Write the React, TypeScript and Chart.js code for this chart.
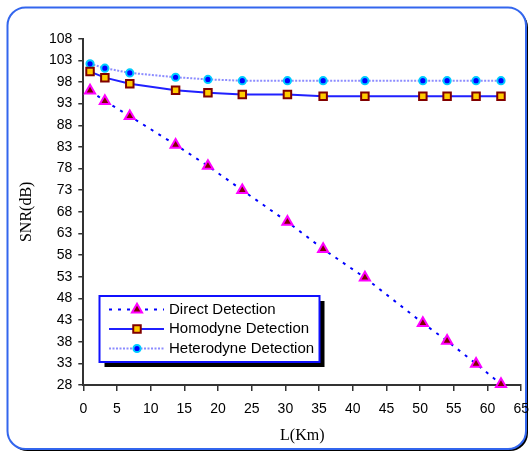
import React, { useEffect, useRef } from 'react';
import { Chart, registerables } from 'chart.js';

Chart.register(...registerables);

// ---- data ----
const distanceKm = [1, 3.2, 6.9, 13.7, 18.5, 23.6, 30.3, 35.6, 41.8, 50.4, 54, 58.3, 62];
const directSNR = [96.0, 93.6, 90.1, 83.5, 78.6, 73.0, 65.7, 59.4, 52.8, 42.3, 38.2, 32.9, 28.2];
const homodyneSNR = [100.4, 99.0, 97.6, 96.1, 95.5, 95.1, 95.1, 94.7, 94.7, 94.7, 94.7, 94.7, 94.7];
const heterodyneSNR = [102.2, 101.2, 100.1, 99.1, 98.6, 98.3, 98.3, 98.3, 98.3, 98.3, 98.3, 98.3, 98.3];
const seriesLabels = ['Direct Detection', 'Homodyne Detection', 'Heterodyne Detection'];
const yMin = 28;
const yMax = 108;
const yStep = 5;
const xMin = 0;
const xMax = 65;
const xStep = 5;
const xTitle = 'L(Km)';
const yTitle = 'SNR(dB)';

const SANS = '"Liberation Sans", Arial, sans-serif';
const SERIF = '"Liberation Serif", "Times New Roman", serif';

type Style = {
  line: string;
  lineWidth: number;
  dash: number[];
  marker: 'triangle' | 'rect' | 'circle';
  fill: string;
  stroke: string;
  radius: number;
};

const styles: Style[] = [
  { line: '#0000ff', lineWidth: 2, dash: [3, 6], marker: 'triangle', fill: '#800000', stroke: '#ff00ff', radius: 5.8 },
  { line: '#2020ff', lineWidth: 2, dash: [], marker: 'rect', fill: '#ffcc00', stroke: '#800000', radius: 5.3 },
  { line: '#8c8cff', lineWidth: 2, dash: [2, 1.5], marker: 'circle', fill: '#0000ff', stroke: '#00ccff', radius: 3.6 },
];

function roundRectPath(ctx: CanvasRenderingContext2D, x: number, y: number, w: number, h: number, r: number) {
  ctx.beginPath();
  ctx.moveTo(x + r, y);
  ctx.lineTo(x + w - r, y);
  ctx.arcTo(x + w, y, x + w, y + r, r);
  ctx.lineTo(x + w, y + h - r);
  ctx.arcTo(x + w, y + h, x + w - r, y + h, r);
  ctx.lineTo(x + r, y + h);
  ctx.arcTo(x, y + h, x, y + h - r, r);
  ctx.lineTo(x, y + r);
  ctx.arcTo(x, y, x + r, y, r);
  ctx.closePath();
}

function drawMarker(ctx: CanvasRenderingContext2D, s: Style, x: number, y: number) {
  ctx.save();
  ctx.setLineDash([]);
  ctx.fillStyle = s.fill;
  ctx.strokeStyle = s.stroke;
  ctx.lineWidth = 2;
  ctx.beginPath();
  if (s.marker === 'triangle') {
    const r = s.radius;
    for (let i = 0; i < 3; i++) {
      const a = (i * 2 * Math.PI) / 3;
      const px = x + Math.sin(a) * r;
      const py = y - Math.cos(a) * r;
      if (i === 0) ctx.moveTo(px, py);
      else ctx.lineTo(px, py);
    }
    ctx.closePath();
  } else if (s.marker === 'rect') {
    const h = Math.SQRT1_2 * s.radius;
    ctx.rect(x - h, y - h, 2 * h, 2 * h);
  } else {
    ctx.arc(x, y, s.radius, 0, Math.PI * 2);
  }
  ctx.fill();
  ctx.stroke();
  ctx.restore();
}

const framePlugin = {
  id: 'frame',
  beforeDraw(chart: any) {
    const ctx: CanvasRenderingContext2D = chart.ctx;
    ctx.save();
    ctx.fillStyle = '#ffffff';
    ctx.fillRect(0, 0, chart.width, chart.height);
    const x = 7.5, y = 7.5, w = 518.5, h = 441.5, r = 18;
    ctx.fillStyle = '#000000';
    roundRectPath(ctx, x + 2, y + 2, w, h, r);
    ctx.fill();
    ctx.fillStyle = '#ffffff';
    roundRectPath(ctx, x, y, w, h, r);
    ctx.fill();
    ctx.lineWidth = 2;
    ctx.strokeStyle = '#3366ee';
    ctx.stroke();
    ctx.restore();
  },
};

const legendPlugin = {
  id: 'boxLegend',
  afterDraw(chart: any) {
    const ctx: CanvasRenderingContext2D = chart.ctx;
    const bx = 99.5, by = 296, bw = 220, bh = 66;
    ctx.save();
    ctx.fillStyle = '#000000';
    ctx.fillRect(bx + 5, by + 5, bw, bh);
    ctx.fillStyle = '#ffffff';
    ctx.fillRect(bx, by, bw, bh);
    ctx.strokeStyle = '#1010ff';
    ctx.lineWidth = 2;
    ctx.strokeRect(bx, by, bw, bh);
    const rowY = [309.5, 329, 348.5];
    chart.data.datasets.forEach((ds: any, i: number) => {
      const s = styles[i];
      const yy = rowY[i];
      ctx.save();
      ctx.strokeStyle = s.line;
      ctx.lineWidth = s.lineWidth;
      ctx.setLineDash(s.dash);
      ctx.beginPath();
      ctx.moveTo(109, yy);
      ctx.lineTo(164, yy);
      ctx.stroke();
      ctx.restore();
      drawMarker(ctx, s, 137, yy);
      ctx.fillStyle = '#000000';
      ctx.font = `15px ${SANS}`;
      ctx.textBaseline = 'middle';
      ctx.textAlign = 'left';
      ctx.fillText(ds.label, 169, yy);
    });
    ctx.restore();
  },
};

export default function App() {
  const canvasRef = useRef<HTMLCanvasElement | null>(null);

  useEffect(() => {
    if (!canvasRef.current) return;
    const seriesValues = [directSNR, homodyneSNR, heterodyneSNR];
    const datasets = seriesValues.map((vals, i) => {
      const s = styles[i];
      return {
        label: seriesLabels[i],
        data: distanceKm.map((x, j) => ({ x, y: vals[j] })),
        borderColor: s.line,
        borderWidth: s.lineWidth,
        borderDash: s.dash,
        pointStyle: s.marker,
        pointRadius: s.radius,
        pointBackgroundColor: s.fill,
        pointBorderColor: s.stroke,
        pointBorderWidth: 2,
        tension: 0,
        fill: false,
        clip: false as any,
      };
    });

    const chart = new Chart(canvasRef.current, {
      type: 'line',
      data: { datasets },
      options: {
        responsive: false,
        animation: false,
        devicePixelRatio: 1,
        layout: { padding: { left: 0, right: 7.3, top: 38.7, bottom: 0 } },
        plugins: {
          legend: { display: false },
          tooltip: { enabled: false },
        },
        scales: {
          x: {
            type: 'linear',
            min: xMin,
            max: xMax,
            ticks: {
              stepSize: xStep,
              autoSkip: false,
              maxRotation: 0,
              padding: 10,
              color: '#000000',
              font: { family: SANS, size: 14 },
            },
            grid: { display: true, drawOnChartArea: false, drawTicks: true, tickLength: 6, color: '#333333', lineWidth: 1.5 },
            border: { display: true, color: '#333333', width: 2 },
            title: {
              display: true,
              text: xTitle,
              color: '#000000',
              font: { family: SERIF, size: 16 },
              padding: { top: 0, bottom: 6.7 },
            },
            afterFit: (s: any) => {
              s.height = 67;
              s.paddingLeft = 0;
              s.paddingRight = 0;
            },
          },
          y: {
            type: 'linear',
            min: yMin,
            max: yMax,
            ticks: {
              stepSize: yStep,
              autoSkip: false,
              padding: 6,
              color: '#000000',
              font: { family: SANS, size: 14 },
            },
            grid: { display: true, drawOnChartArea: false, drawTicks: true, tickLength: 5, color: '#333333', lineWidth: 1.5 },
            border: { display: true, color: '#333333', width: 2 },
            title: {
              display: true,
              text: yTitle,
              color: '#000000',
              font: { family: SERIF, size: 16 },
              padding: { top: 17, bottom: 0 },
            },
            afterFit: (s: any) => {
              s.width = 83.3;
              s.paddingTop = 0;
              s.paddingBottom = 0;
            },
          },
        },
      },
      plugins: [framePlugin, legendPlugin],
    });

    return () => chart.destroy();
  }, []);

  return (
    <div style={{ position: 'fixed', left: 0, top: 0, width: 529, height: 452, background: '#ffffff' }}>
      <canvas ref={canvasRef} width={529} height={452} style={{ display: 'block', width: 529, height: 452 }} />
    </div>
  );
}
